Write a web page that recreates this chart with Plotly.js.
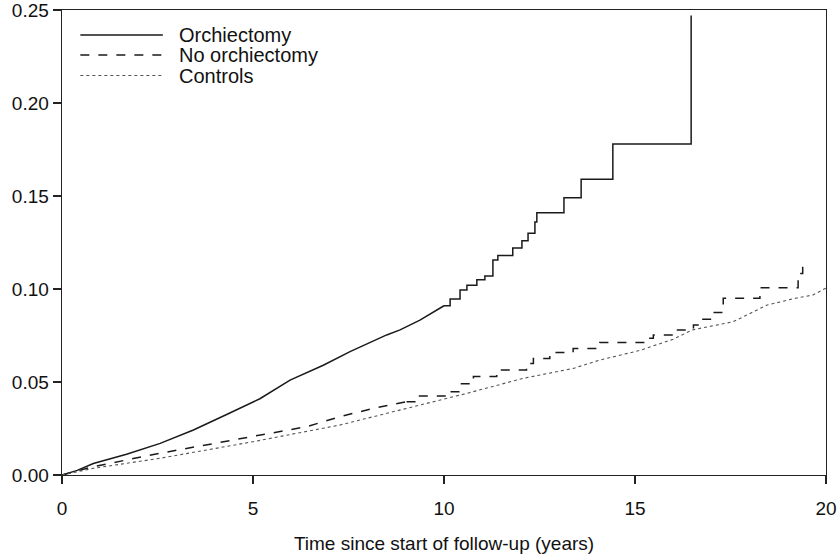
<!DOCTYPE html>
<html>
<head>
<meta charset="utf-8">
<script src="https://cdn.plot.ly/plotly-3.0.1.min.js"></script>
<style>html,body{margin:0;padding:0;background:#fff;}#chart{width:840px;height:560px;}</style>
</head>
<body>
<div id="chart"></div>
<script>
// Series names
const seriesNames = ["Orchiectomy", "No orchiectomy", "Controls"];

// Orchiectomy: early (dense, near-continuous) part and later step part
const orchEarlyT = [0,0.4,0.82,1.69,2.57,3.44,4.31,4.66,5.18,5.97,6.84,7.54,8.5,8.85,9.37,10.0];
const orchEarlyV = [0,0.0025,0.0062,0.0112,0.017,0.0242,0.0325,0.0358,0.041,0.051,0.059,0.0663,0.0753,0.078,0.0833,0.091];
const orchLateT = [10.0,10.16,10.42,10.6,10.86,11.07,11.28,11.41,11.8,12.04,12.2,12.38,12.43,13.14,13.59,14.42,16.47];
const orchLateV = [0.091,0.0946,0.0995,0.102,0.105,0.107,0.1156,0.118,0.122,0.126,0.130,0.136,0.141,0.149,0.159,0.178,0.247];

// No orchiectomy
const noOrchEarlyT = [0,0.82,2.57,4.66,6.41,7.28,8.15,9.02];
const noOrchEarlyV = [0,0.0045,0.0117,0.0197,0.026,0.0314,0.0358,0.0394];
const noOrchLateT = [9.02,9.29,10.07,10.42,10.77,11.38,12.16,12.34,12.77,13.38,14.08,15.3,15.48,16.05,16.53,16.65,17.05,17.31,18.27,19.27,19.39];
const noOrchLateV = [0.0394,0.0425,0.0448,0.049,0.0529,0.0565,0.060,0.0627,0.0658,0.068,0.0712,0.0735,0.0753,0.078,0.0806,0.0837,0.0873,0.095,0.1007,0.1084,0.116];

// Controls
const ctrlT = [0,0.82,2.57,5,7.28,9.02,10.6,12.08,13.38,14.08,15.13,16,16.5,17.57,18.46,19.2,19.66,20];
const ctrlV = [0,0.0036,0.009,0.0179,0.0269,0.0358,0.0439,0.052,0.0573,0.0618,0.067,0.073,0.078,0.0824,0.0914,0.095,0.0968,0.1005];

// Axis ticks
const xTicks = [0,5,10,15,20];
const yTicks = [0,0.05,0.10,0.15,0.20,0.25];
const yTickText = ["0.00","0.05","0.10","0.15","0.20","0.25"];
const xTitle = "Time since start of follow-up (years)";

const solid = {color:"#1a1a1a", width:1.5, dash:"solid"};
const dashed = {color:"#1a1a1a", width:1.5, dash:"dash"};
const dotted = {color:"#555", width:1.1, dash:"dot"};

const traces = [
  {x: orchEarlyT, y: orchEarlyV, mode:"lines", line:Object.assign({shape:"linear"}, solid), name:seriesNames[0], showlegend:false},
  {x: orchLateT, y: orchLateV, mode:"lines", line:Object.assign({shape:"hv"}, solid), name:seriesNames[0], showlegend:false},
  {x: noOrchEarlyT, y: noOrchEarlyV, mode:"lines", line:Object.assign({shape:"linear"}, dashed), name:seriesNames[1], showlegend:false},
  {x: noOrchLateT, y: noOrchLateV, mode:"lines", line:Object.assign({shape:"hv"}, dashed), name:seriesNames[1], showlegend:false},
  {x: ctrlT, y: ctrlV, mode:"lines", line:Object.assign({shape:"linear"}, dotted), name:seriesNames[2], showlegend:false}
];

// Custom legend (long sample lines like the original)
const legStyles = [solid, dashed, dotted];
const legY = [0.946, 0.903, 0.859];
const shapes = legStyles.map((s,i)=>({type:"line", xref:"paper", yref:"paper", x0:0.024, x1:0.132, y0:legY[i], y1:legY[i], line:{color:s.color, width:s.width, dash:s.dash}}));
const annotations = seriesNames.map((n,i)=>({xref:"paper", yref:"paper", x:0.151, y:legY[i], xanchor:"left", yanchor:"middle", text:n, showarrow:false, font:{size:20, color:"#111", family:"Liberation Sans, Arial, sans-serif"}}));

const layout = {
  width:840, height:560,
  margin:{l:62, r:14, t:10, b:85},
  paper_bgcolor:"#fff", plot_bgcolor:"#fff",
  font:{family:"Liberation Sans, Arial, sans-serif", size:19, color:"#111"},
  showlegend:false,
  xaxis:{range:[0,20], tickvals:xTicks, ticks:"outside", ticklen:8, tickwidth:1.3, tickcolor:"#222",
         showline:true, linecolor:"#222", linewidth:1.4, mirror:true, showgrid:false, zeroline:false,
         ticklabelstandoff:8, ticklabeloverflow:"allow", automargin:false,
         tickfont:{size:19}, title:{text:xTitle, font:{size:19}, standoff:18}},
  yaxis:{range:[0,0.25], tickvals:yTicks, ticktext:yTickText, ticks:"outside", ticklen:8, tickwidth:1.3, tickcolor:"#222",
         showline:true, linecolor:"#222", linewidth:1.4, mirror:true, showgrid:false, zeroline:false,
         ticklabeloverflow:"allow", automargin:false,
         tickfont:{size:19}},
  shapes:shapes,
  annotations:annotations
};

Plotly.newPlot("chart", traces, layout, {staticPlot:true, displayModeBar:false});
</script>
</body>
</html>
